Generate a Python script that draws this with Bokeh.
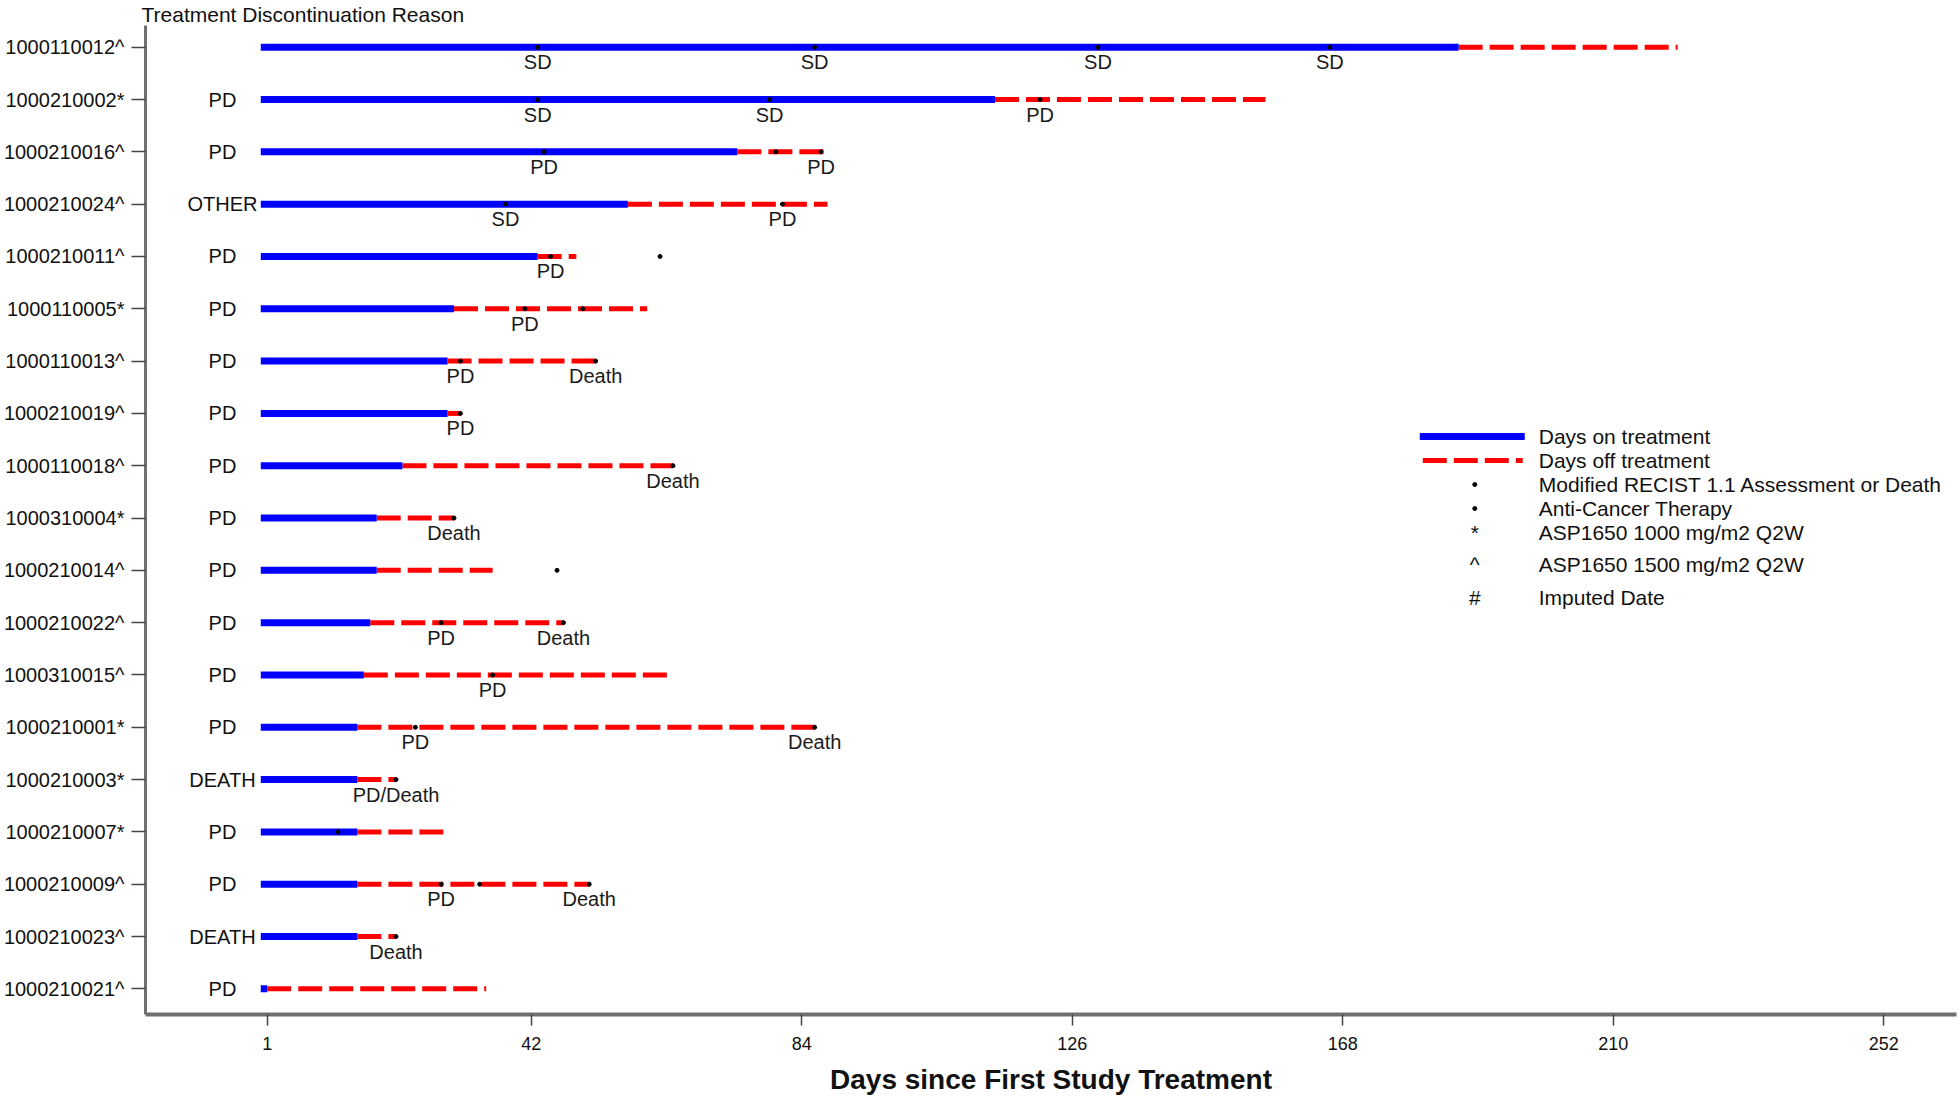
from bokeh.plotting import figure
from bokeh.models import Range1d, FixedTicker
from bokeh.core.properties import value
from bokeh.embed import file_html
from bokeh.resources import INLINE

# ---------------- data ----------------
subjects = ["1000110012^", "1000210002*", "1000210016^", "1000210024^", "1000210011^",
            "1000110005*", "1000110013^", "1000210019^", "1000110018^", "1000310004*",
            "1000210014^", "1000210022^", "1000310015^", "1000210001*", "1000210003*",
            "1000210007*", "1000210009^", "1000210023^", "1000210021^"]
reasons = ["", "PD", "PD", "OTHER", "PD", "PD", "PD", "PD", "PD", "PD",
           "PD", "PD", "PD", "PD", "DEATH", "PD", "PD", "DEATH", "PD"]
treat_start = [0] * len(subjects)
on_end = [186, 114, 74, 57, 43, 30, 29, 29, 22, 18, 18, 17, 16, 15, 15, 15, 15, 15, 1]
off_end = [220, 156, 88, 88, 49, 60, 52, 31, 64, 30, 36, 47, 64, 86, 21, 29, 51, 21, 35]

# Modified RECIST 1.1 assessments / death (subject index, day, label)
assess_subj = [0, 0, 0, 0, 1, 1, 1, 2, 2, 3, 3, 4, 5, 6, 6, 7, 8, 9, 11, 11, 12, 13, 13, 14, 16, 16, 17]
assess_day = [43, 86, 130, 166, 43, 79, 121, 44, 87, 38, 81, 45, 41, 31, 52, 31, 64, 30, 28, 47, 36, 24, 86, 21, 28, 51, 21]
assess_label = ["SD", "SD", "SD", "SD", "SD", "SD", "PD", "PD", "PD", "SD", "PD", "PD", "PD", "PD", "Death",
                "PD", "Death", "Death", "PD", "Death", "PD", "PD", "Death", "PD/Death", "PD", "Death", "Death"]

# Anti-cancer therapy (subject index, day)
act_subj = [2, 4, 5, 10, 15, 16]
act_day = [80, 62, 50, 46, 12, 34]

x_ticks = [1, 42, 84, 126, 168, 210, 252]

legend_labels = ["Days on treatment", "Days off treatment",
                 "Modified RECIST 1.1 Assessment or Death", "Anti-Cancer Therapy",
                 "ASP1650 1000 mg/m2 Q2W", "ASP1650 1500 mg/m2 Q2W", "Imputed Date"]
legend_symbols = ["*", "^", "#"]

# ---------------- layout ----------------
FONT = "Liberation Sans"
W, H = 1960, 1102
X0, X1 = -17.9, 263.3
Y0, Y1 = 0.51, 19.415
FL, FR, FT, FB = 144, 1956, 25, 1014   # frame edges in figure pixels
pxx = (FR - FL) / (X1 - X0)
pxy = (FB - FT) / (Y1 - Y0)


def sx(px):  # figure pixel -> data x
    return X0 + (px - FL) / pxx


def sy(py):  # figure pixel -> data y
    return Y1 - (py - FT) / pxy


n = len(subjects)
rows = [n - i for i in range(n)]
row_of = {i: rows[i] for i in range(n)}

p = figure(width=W, height=H, x_range=Range1d(X0, X1), y_range=Range1d(Y0, Y1),
           output_backend="svg", toolbar_location=None,
           min_border_left=FL, min_border_right=W - FR, min_border_top=FT,
           min_border_bottom=H - FB)
p.outline_line_color = None
p.xgrid.visible = False
p.ygrid.visible = False
p.background_fill_color = "white"

# y-axis header shown as a left-aligned title above the frame
p.title.text = "Treatment Discontinuation Reason"
p.title.align = "left"
p.title.offset = -4
p.title.standoff = 0
p.title.text_font = FONT
p.title.text_font_size = "21px"
p.title.text_font_style = "normal"
p.title.text_color = "#111111"

# off treatment (dashed red)
p.segment(x0=on_end, y0=rows, x1=off_end, y1=rows, line_color="#ff0000",
          line_width=5, line_dash="24 7", line_cap="butt")
# on treatment (blue)
p.segment(x0=treat_start, y0=rows, x1=on_end, y1=rows, line_color="#0000ff",
          line_width=7, line_cap="butt")

# assessments
ay = [row_of[i] for i in assess_subj]
p.scatter(x=assess_day, y=ay, marker="circle", size=4, color="black")
p.text(x=assess_day, y=ay, text=assess_label, text_align="center", text_baseline="middle",
       y_offset=15, text_font=value(FONT), text_font_size="20px", text_color="#1a1a1a")

# anti-cancer therapy
cy = [row_of[i] for i in act_subj]
p.scatter(x=act_day, y=cy, marker="circle", size=4, color="black")

# discontinuation reasons
p.text(x=[sx(221)] * n, y=rows, text=reasons, text_align="center", text_baseline="middle",
       text_font=value(FONT), text_font_size="20px", text_color="#111111")

# ---------------- legend (drawn) ----------------
leg_y = [436, 460, 484, 508, 532, 564, 597]
p.segment(x0=[sx(1419)], y0=[sy(leg_y[0])], x1=[sx(1524)], y1=[sy(leg_y[0])],
          line_color="#0000ff", line_width=7, line_cap="butt")
p.segment(x0=[sx(1422)], y0=[sy(leg_y[1])], x1=[sx(1522)], y1=[sy(leg_y[1])],
          line_color="#ff0000", line_width=5, line_dash="24 7", line_cap="butt")
p.scatter(x=[sx(1474)] * 2, y=[sy(leg_y[2]), sy(leg_y[3])], marker="circle", size=4, color="black")
p.text(x=[sx(1474)] * 3, y=[sy(v) for v in leg_y[4:]], text=legend_symbols,
       text_align="center", text_baseline="middle", text_font=value(FONT),
       text_font_size="21px", text_color="#111111")
p.text(x=[sx(1538)] * len(legend_labels), y=[sy(v) for v in leg_y], text=legend_labels,
       text_align="left", text_baseline="middle", text_font=value(FONT),
       text_font_size="21px", text_color="#111111")

# ---------------- axes ----------------
p.yaxis.ticker = FixedTicker(ticks=rows)
p.yaxis.major_label_overrides = {rows[i]: subjects[i] for i in range(n)}
p.yaxis.axis_line_color = "#707070"
p.yaxis.axis_line_width = 3
p.yaxis.major_tick_line_color = "#444444"
p.yaxis.major_tick_line_width = 1.5
p.yaxis.major_tick_out = 14
p.yaxis.major_tick_in = 0
p.yaxis.minor_tick_line_color = None
p.yaxis.major_label_standoff = 7
p.yaxis.major_label_text_font = FONT
p.yaxis.major_label_text_font_size = "20px"
p.yaxis.major_label_text_color = "#111111"

p.xaxis.ticker = FixedTicker(ticks=x_ticks)
p.xaxis.axis_line_color = "#707070"
p.xaxis.axis_line_width = 4
p.xaxis.major_tick_line_color = "#444444"
p.xaxis.major_tick_line_width = 1.5
p.xaxis.major_tick_out = 11
p.xaxis.major_tick_in = 0
p.xaxis.minor_tick_line_color = None
p.xaxis.major_label_standoff = 11
p.xaxis.major_label_text_font = FONT
p.xaxis.major_label_text_font_size = "18px"
p.xaxis.major_label_text_color = "#111111"
p.xaxis.axis_label = "Days since First Study Treatment"
p.xaxis.axis_label_text_font = FONT
p.xaxis.axis_label_text_font_style = "bold"
p.xaxis.axis_label_text_font_size = "28px"
p.xaxis.axis_label_text_color = "#111111"
p.xaxis.axis_label_standoff = 11

open("out.html", "w").write(file_html(p, INLINE))
